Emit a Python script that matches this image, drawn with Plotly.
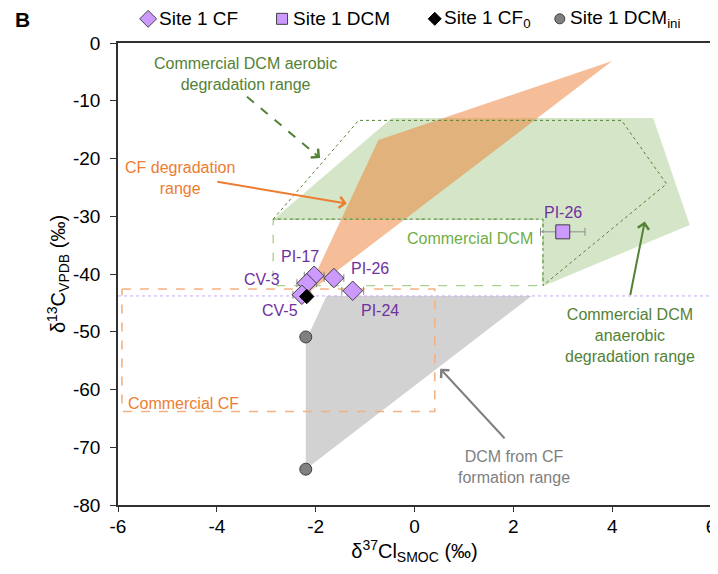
import plotly.graph_objects as go

# ---- data ----
cf_labels = ["PI-17", "CV-3", "PI-26", "PI-24", "CV-5"]
cf_x = [-2.03, -2.18, -1.63, -1.25, -2.28]
cf_y = [-40.3, -41.6, -40.7, -42.9, -43.6]
cf_xerr = [0.2, 0.2, 0.2, 0.22, 0.18]

dcm_label = ["PI-26"]
dcm_x = [3.0]
dcm_y = [-32.7]
dcm_xerr = [0.45]

cf0_x = [-2.18]
cf0_y = [-43.9]

dcmini_x = [-2.2, -2.2]
dcmini_y = [-50.9, -73.8]

cf0_line_x = [-6, 6]
cf0_line_y = [-43.8, -43.8]

# ranges (polygons)
anaer_x = [-2.86, -0.46, 4.83, 5.57, 2.60, 2.60, -2.86]
anaer_y = [-30.6, -13.0, -13.0, -31.5, -42.1, -30.6, -30.6]

aer_x = [-2.86, -1.13, 4.19, 5.10, 2.60, 2.60, -2.86]
aer_y = [-30.5, -13.4, -13.4, -24.4, -42.0, -30.5, -30.5]

cfdeg_x = [-2.2, -0.73, 4.0, -2.2]
cfdeg_y = [-43.6, -16.8, -3.1, -43.6]

form_x = [-1.78, 2.37, -2.2, -2.2, -1.78]
form_y = [-43.8, -43.8, -73.8, -51.6, -43.8]

comdcm_x = [-2.86, 2.6, 2.6, -2.86, -2.86]
comdcm_y = [-30.5, -30.5, -42.0, -42.0, -30.5]

comcf_x = [-5.92, 0.41, 0.41, -5.92, -5.92]
comcf_y = [-42.6, -42.6, -63.8, -63.8, -42.6]

x_ticks = [-6, -4, -2, 0, 2, 4, 6]
y_ticks = [0, -10, -20, -30, -40, -50, -60, -70, -80]

legend_names = ["Site 1 CF", "Site 1 DCM", "Site 1 CF<sub>0</sub>", "Site 1 DCM<sub>ini</sub>"]

ORANGE = "#ED7D31"
DKGREEN = "#548235"
LTGREEN = "#70AD47"
PURPLE = "#7030A0"
GRAY = "#7F7F7F"
FILLPURPLE = "#CC99FF"
EDGE = "#404040"
FONT = "Liberation Sans, Arial, sans-serif"

# page offset of the plotly div (browser body margin)
OFF = 8
W, H = 718 - OFF, 574 - 2 * OFF
ML, MR, MB = 118 - OFF, 7, 69 - OFF
PLOT_TOP = 43 - OFF
PH = H - MB  # paper height with t=0
main_top = 1 - PLOT_TOP / PH

fig = go.Figure()

def poly(x, y, fill=None, line=None, dash=None, width=1):
    fig.add_trace(go.Scatter(
        x=x, y=y, mode="lines",
        fill="toself" if fill else None,
        fillcolor=fill,
        line=dict(color=line if line else "rgba(0,0,0,0)", width=width, dash=dash),
        showlegend=False, hoverinfo="skip"))

poly(anaer_x, anaer_y, fill="rgba(112,173,71,0.3)")
poly(form_x, form_y, fill="#D2D2D2")
poly(cfdeg_x, cfdeg_y, fill="rgba(237,125,49,0.5)")
poly(comdcm_x, comdcm_y, line="#A9D18E", dash="dash", width=1.3)
poly(aer_x, aer_y, line=DKGREEN, dash="dot", width=1)
poly(comcf_x, comcf_y, line="#F4B183", dash="dash", width=1.6)
poly(cf0_line_x, cf0_line_y, line="#C9A8F5", dash="dot", width=1)

# aerobic dashed arrow shaft
ar_x = [-3.39, -1.98]
ar_y = [-9.3, -19.4]
fig.add_trace(go.Scatter(x=ar_x, y=ar_y, mode="lines",
                         line=dict(color=DKGREEN, width=2, dash="dash"),
                         showlegend=False, hoverinfo="skip"))

# data points
cf_marker = dict(symbol="diamond", size=15, color=FILLPURPLE, line=dict(color=EDGE, width=1))
dcm_marker = dict(symbol="square", size=14, color=FILLPURPLE, line=dict(color=EDGE, width=1))
cf0_marker = dict(symbol="diamond", size=11, color="black", line=dict(color="black", width=1))
ini_marker = dict(symbol="circle", size=12, color="#808080", line=dict(color="#404040", width=1))

fig.add_trace(go.Scatter(
    x=cf_x, y=cf_y, mode="markers", name=legend_names[0], showlegend=False,
    marker=cf_marker,
    error_x=dict(type="data", array=cf_xerr, color="#8C8C8C", thickness=1, width=4)))
fig.add_trace(go.Scatter(
    x=dcm_x, y=dcm_y, mode="markers", name=legend_names[1], showlegend=False,
    marker=dcm_marker,
    error_x=dict(type="data", array=dcm_xerr, color="#8C8C8C", thickness=1, width=4)))
fig.add_trace(go.Scatter(
    x=cf0_x, y=cf0_y, mode="markers", name=legend_names[2], showlegend=False,
    marker=cf0_marker))
fig.add_trace(go.Scatter(
    x=dcmini_x, y=dcmini_y, mode="markers", name=legend_names[3], showlegend=False,
    marker=ini_marker))

# ---- compact legend row: its own hidden subplot above the chart ----
leg_sym_x = [-5.39, -2.68, 0.41, 2.94]
leg_txt_x = [-5.21, -2.50, 0.56, 3.11]
leg_y = 1 - (19 - OFF) / PLOT_TOP
leg_markers = [
    dict(symbol="diamond", size=13, color=FILLPURPLE, line=dict(color=EDGE, width=1)),
    dict(symbol="square", size=11, color=FILLPURPLE, line=dict(color=EDGE, width=1)),
    dict(symbol="diamond", size=10, color="black", line=dict(color="black", width=1)),
    dict(symbol="circle", size=10, color="#808080", line=dict(color="#404040", width=1)),
]
for sx, mk in zip(leg_sym_x, leg_markers):
    fig.add_trace(go.Scatter(x=[sx], y=[leg_y], mode="markers", marker=mk, xaxis="x2", yaxis="y2",
                             cliponaxis=False, showlegend=False, hoverinfo="skip"))

ann = []
def txt(x, y, t, color, size=16, xanchor="center", xref="x", yref="y"):
    ann.append(dict(x=x, y=y, xref=xref, yref=yref, text=t, showarrow=False,
                    font=dict(color=color, size=size, family=FONT), xanchor=xanchor, yanchor="middle"))

def arrow(x0, y0, x1, y1, color, width=2):
    ann.append(dict(x=x1, y=y1, ax=x0, ay=y0, xref="x", yref="y", axref="x", ayref="y",
                    text="", showarrow=True, arrowhead=4, arrowsize=1.1, arrowwidth=width,
                    arrowcolor=color))

for tx, name in zip(leg_txt_x, legend_names):
    txt(tx, leg_y, name, "black", size=19, xanchor="left", xref="x2", yref="y2")

# point labels
lab_x = [-2.32, -3.09, -0.90, -0.70, -2.72]
lab_y = [-36.9, -40.9, -39.0, -46.4, -46.4]
lab_t = ["PI-17", "CV-3", "PI-26", "PI-24", "CV-5"]
for x, y, t in zip(lab_x, lab_y, lab_t):
    txt(x, y, t, PURPLE)
txt(3.0, -29.3, dcm_label[0], PURPLE)

txt(2.44, -33.9, "Commercial DCM", LTGREEN, xanchor="right")
txt(-5.84, -62.5, "Commercial CF", ORANGE, xanchor="left")
txt(-4.74, -23.4, "CF degradation<br>range", ORANGE)
txt(-3.42, -5.45, "Commercial DCM aerobic<br>degradation range", DKGREEN)
txt(4.36, -50.7, "Commercial DCM<br>anaerobic<br>degradation range", DKGREEN)
txt(2.01, -73.5, "DCM from CF<br>formation range", GRAY)

arrow(-2.05, -18.9, -1.91, -19.9, DKGREEN)
arrow(-4.02, -24.0, -1.37, -27.8, ORANGE)
arrow(4.36, -43.9, 4.66, -30.9, DKGREEN)
arrow(1.85, -68.7, 0.52, -56.4, GRAY)

ann.append(dict(x=(22 - OFF - ML) / (W - ML - MR), y=1 - (19 - OFF) / PH, xref="paper", yref="paper",
                text="<b>B</b>", showarrow=False, xanchor="center", yanchor="middle",
                font=dict(size=21, color="black", family=FONT)))

fig.update_layout(
    width=W, height=H,
    margin=dict(l=ML, r=MR, t=0, b=MB, autoexpand=False),
    paper_bgcolor="white", plot_bgcolor="white",
    font=dict(family=FONT, size=16, color="black"),
    annotations=ann,
    showlegend=False,
    xaxis=dict(range=[-6, 6], tickvals=x_ticks, ticktext=[str(v) for v in x_ticks],
               ticks="outside", ticklen=5, tickcolor="#303030", ticklabelstandoff=-2,
               showline=True, linecolor="#303030", linewidth=1.5, mirror=True,
               showgrid=False, zeroline=False, tickfont=dict(size=19),
               automargin=False, anchor="y",
               title=dict(text="δ<sup>37</sup>Cl<sub>SMOC</sub> (‰)", font=dict(size=20), standoff=0)),
    yaxis=dict(range=[-80, 0], tickvals=y_ticks, ticktext=[str(v) for v in y_ticks],
               domain=[0, main_top],
               ticks="outside", ticklen=6, tickcolor="#303030", ticklabelstandoff=6,
               showline=True, linecolor="#303030", linewidth=1.5, mirror=True,
               showgrid=False, zeroline=False, tickfont=dict(size=19),
               automargin=False, anchor="x",
               title=dict(text="δ<sup>13</sup>C<sub>VPDB</sub> (‰)", font=dict(size=20), standoff=2)),
    xaxis2=dict(range=[-6, 6], domain=[0, 1], anchor="y2", visible=False, fixedrange=True),
    yaxis2=dict(range=[0, 1], domain=[main_top + 0.001, 1], anchor="x2", visible=False, fixedrange=True),
)

fig.write_html("out.html")
